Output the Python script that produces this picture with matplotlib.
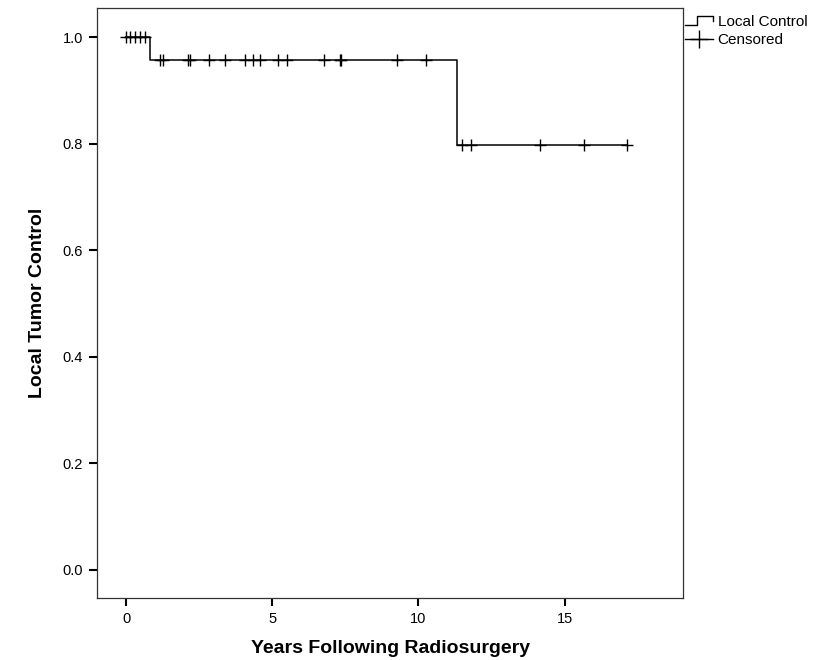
import matplotlib

matplotlib.use("Agg")

import matplotlib.pyplot as plt
from matplotlib.legend_handler import HandlerBase
from matplotlib.lines import Line2D

plt.rcParams["font.family"] = ["Liberation Sans", "DejaVu Sans"]

# ---------------------------------------------------------------------------
#  data  -----------------------------------------------------------------------
# ---------------------------------------------------------------------------
event_times = [0.0, 0.83, 11.32, 17.12]      # step points (start, drops, end)
event_surv = [1.0, 0.957, 0.797, 0.797]

cens_1 = [0.0, 0.15, 0.32, 0.49, 0.66]       # censored while at 1.0
cens_2 = [1.17, 1.25, 2.12, 2.20, 2.85, 3.40, 4.08, 4.33, 4.59,
          5.18, 5.51, 6.76, 7.31, 7.36, 9.27, 10.26]
cens_3 = [11.49, 11.80, 14.14, 15.65, 17.12]

x_ticks = [0, 5, 10, 15]
y_ticks = [0.0, 0.2, 0.4, 0.6, 0.8, 1.0]


def surv_at(t):
    s = event_surv[0]
    for et, es in zip(event_times, event_surv):
        if t >= et:
            s = es
    return s


class HandlerStep(HandlerBase):
    """small step glyph like SPSS uses for the survival line"""

    def create_artists(self, legend, orig_handle, xdescent, ydescent,
                       width, height, fontsize, trans):
        w, h = width, height
        xs = [-xdescent, 0.45 * w, 0.45 * w, w, w]
        ys = [0.1 * h, 0.1 * h, 0.95 * h, 0.95 * h, 0.45 * h]
        ln = Line2D(xs, ys, color="black", lw=1.0)
        ln.set_transform(trans)
        return [ln]


fig = plt.figure(figsize=(8.3, 6.6), dpi=100)
ax = fig.add_axes([0.117, 0.094, 0.706, 0.894])

ax.step(event_times, event_surv, where="post", color="black", lw=1.1)

cens_all = cens_1 + cens_2 + cens_3
ax.plot(cens_all, [surv_at(t) for t in cens_all], linestyle="none",
        marker="+", markersize=8, markeredgewidth=1.0, color="black")

ax.set_xlim(-0.99, 19.05)
ax.set_ylim(-0.053, 1.055)
ax.set_xticks(x_ticks)
ax.set_yticks(y_ticks)
ax.set_yticklabels([f"{v:.1f}" for v in y_ticks])

for sp in ax.spines.values():
    sp.set_linewidth(0.9)
    sp.set_color("#333333")
ax.tick_params(direction="out", length=6, width=1.5, labelsize=10.5,
               colors="black", pad=4)

ax.set_xlabel("Years Following Radiosurgery", fontsize=14,
              fontweight="bold", labelpad=10)
ax.set_ylabel("Local Tumor Control", fontsize=14, fontweight="bold",
              labelpad=12)

step_handle = Line2D([], [], color="black")
cens_handle = Line2D([], [], color="black", marker="+", markersize=13,
                     markeredgewidth=1.0, lw=1.0)
fig.legend([step_handle, cens_handle], ["Local Control", "Censored"],
           handler_map={step_handle: HandlerStep()},
           loc="upper left", bbox_to_anchor=(0.825, 0.977),
           frameon=False, fontsize=11, handlelength=1.85,
           handletextpad=0.3, borderpad=0.0, borderaxespad=0.0,
           labelspacing=0.25)

fig.savefig("out.png", dpi=100)
